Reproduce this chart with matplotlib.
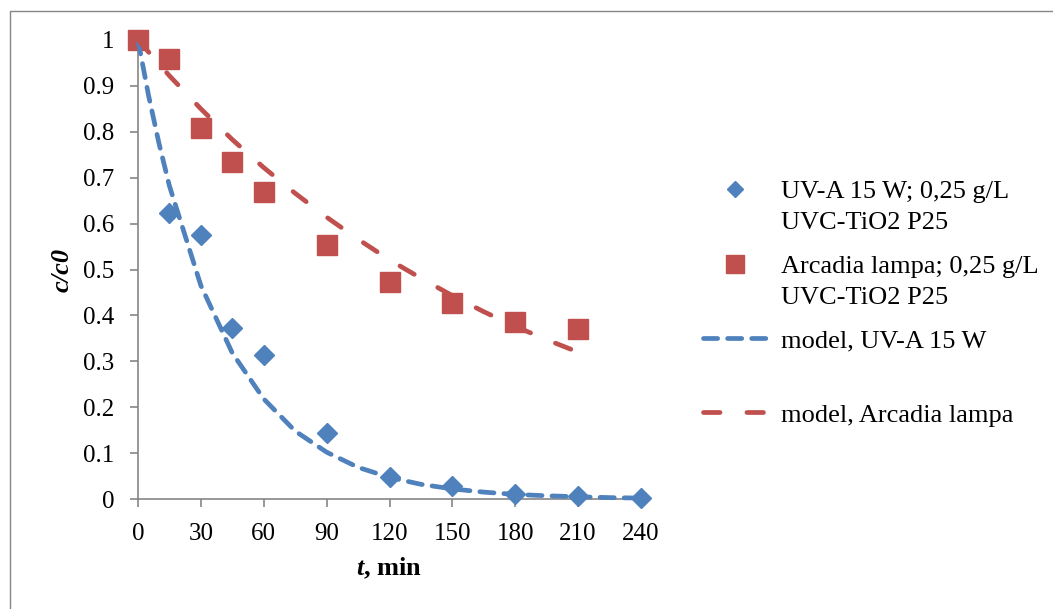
import matplotlib
matplotlib.use("Agg")
import matplotlib.pyplot as plt
from matplotlib.lines import Line2D
from matplotlib.patches import Rectangle

plt.rcParams['font.family'] = ['Liberation Serif', 'DejaVu Serif']
plt.rcParams['mathtext.fontset'] = 'custom'
plt.rcParams['mathtext.it'] = 'Liberation Serif:italic:bold'
plt.rcParams['mathtext.rm'] = 'Liberation Serif:bold'

# measured points
t_meas = [0, 15, 30, 45, 60, 90, 120, 150, 180, 210, 240]
uva = [1.0, 0.623, 0.576, 0.373, 0.313, 0.143, 0.049, 0.029, 0.011, 0.006, 0.002]
t_arc = [0, 15, 30, 45, 60, 90, 120, 150, 180, 210]
arcadia = [1.0, 0.958, 0.808, 0.734, 0.669, 0.553, 0.472, 0.428, 0.385, 0.370]

# model curves
t_mod_uva = [0, 5, 10, 15, 30, 45, 60, 75, 90, 105, 120, 135, 150, 165, 180, 195, 210, 225, 240]
mod_uva = [1.0, 0.88, 0.775, 0.682, 0.465, 0.318, 0.218, 0.148, 0.102, 0.069, 0.047,
           0.032, 0.022, 0.015, 0.010, 0.007, 0.005, 0.003, 0.002]
t_mod_arc = [0, 15, 30, 45, 60, 75, 90, 105, 120, 135, 150, 165, 180, 195, 210]
mod_arc = [1.0, 0.922, 0.85, 0.783, 0.722, 0.666, 0.614, 0.566, 0.521, 0.481,
           0.443, 0.408, 0.376, 0.347, 0.32]

x_ticks = [0, 30, 60, 90, 120, 150, 180, 210, 240]
y_ticks = [0, 0.1, 0.2, 0.3, 0.4, 0.5, 0.6, 0.7, 0.8, 0.9, 1]
y_labels = ['0', '0.1', '0.2', '0.3', '0.4', '0.5', '0.6', '0.7', '0.8', '0.9', '1']

labels = ['UV-A 15 W; 0,25 g/L', 'Arcadia lampa; 0,25 g/L',
          'model, UV-A 15 W', 'model, Arcadia lampa']
second_line = 'UVC-TiO2 P25'

blue = '#4F81BD'
red = '#C0504D'
gray = '#868686'
fs = 18
fs_leg = 19

W, H = 1053, 609
fig = plt.figure(figsize=(W / 100, H / 100), dpi=100)
ax = fig.add_axes([138 / W, 1 - 499 / H, (641 - 138) / W, (499 - 40) / H])

ax.plot(t_meas, uva, linestyle='none', marker='D', ms=10.5, color=blue, clip_on=False, zorder=3)
ax.plot(t_arc, arcadia, linestyle='none', marker='s', ms=14, color=red, clip_on=False, zorder=3)
l1, = ax.plot(t_mod_uva, mod_uva, color=blue, lw=3.4, dash_capstyle='round', clip_on=False, zorder=4)
l1.set_dashes([3.0, 2.1])
l2, = ax.plot(t_mod_arc, mod_arc, color=red, lw=3.4, dash_capstyle='round', clip_on=False, zorder=4)
l2.set_dashes([3.5, 5.7])

ax.set_xlim(0, 240)
ax.set_ylim(0, 1)
ax.set_xticks(x_ticks)
ax.set_yticks(y_ticks)
ax.set_yticklabels(y_labels)
for s in ['top', 'right']:
    ax.spines[s].set_visible(False)
for s in ['left', 'bottom']:
    ax.spines[s].set_color(gray)
    ax.spines[s].set_linewidth(1.2)
ax.tick_params(axis='both', direction='out', length=6, width=1.2, color=gray, labelsize=fs)
ax.tick_params(axis='y', pad=11)
ax.tick_params(axis='x', pad=11)

ax.set_xlabel(r'$t$, min', fontsize=fs_leg, fontweight='bold', labelpad=8)
ax.set_ylabel('c/c0', fontsize=fs_leg, fontweight='bold', style='italic', labelpad=7)

handles = [
    Line2D([], [], linestyle='none', marker='D', ms=8.5, color=blue),
    Line2D([], [], linestyle='none', marker='s', ms=13.5, color=red),
    Line2D([], [], color=blue, lw=3.4, dashes=[3.0, 2.1], dash_capstyle='round'),
    Line2D([], [], color=red, lw=3.4, dashes=[3.5, 5.7], dash_capstyle='round'),
]
leg = fig.legend(handles, labels, loc='upper left', bbox_to_anchor=(703 / W, 1 - 180 / H),
                 frameon=False, fontsize=fs_leg, handlelength=2.4, handletextpad=0.57,
                 labelspacing=1.93, borderpad=0, borderaxespad=0)

fig.canvas.draw()
for i in [0, 1]:
    bb = leg.get_texts()[i].get_window_extent()
    fig.text(bb.x0 / W, (bb.y0 - 31) / H, second_line, fontsize=fs_leg, ha='left', va='bottom')

fig.add_artist(Rectangle((10 / W, -0.1), 1.2, 1.1 - 11 / H, transform=fig.transFigure,
                         fill=False, edgecolor=gray, lw=1))

fig.savefig('out.png', dpi=100)
